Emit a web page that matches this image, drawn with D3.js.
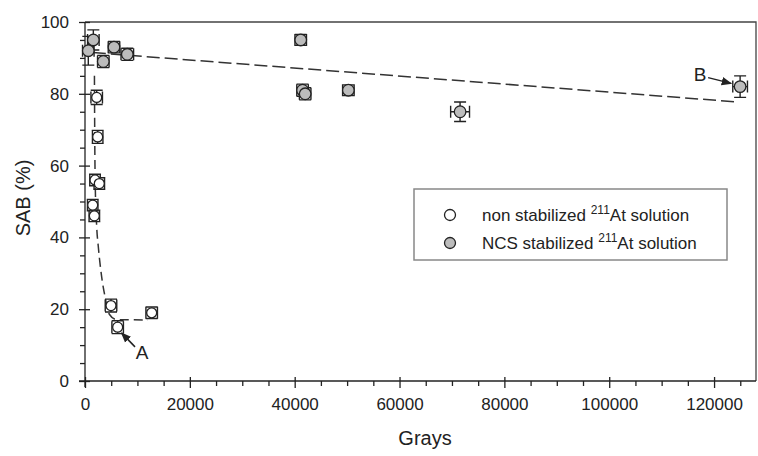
<!DOCTYPE html>
<html>
<head>
<meta charset="UTF-8">
<script src="https://d3js.org/d3.v7.min.js"></script>
<style>
  body { margin: 0; background: #fff; }
  text { font-family: "Liberation Sans", Arial, sans-serif; fill: #222; }
</style>
</head>
<body>
<div id="chart"></div>
<script>
// non stabilized 211At solution
var nsX    = [1470, 1780, 1910, 2730, 2230, 2420, 4960, 6230, 12720];
var nsY    = [49, 46, 56, 55, 79, 68, 21, 15, 19];
var nsXErr = [1000, 1000, 1000, 1000, 1100, 1000, 1100, 1100, 1100];
var nsYErr = [1.6, 1.6, 1.6, 1.6, 2.0, 1.8, 1.8, 1.8, 1.6];

// NCS stabilized 211At solution
var ncsX    = [630, 1590, 3490, 5530, 8070, 41150, 41500, 42000, 50240, 71550, 124970];
var ncsY    = [92, 95, 89, 93, 91, 95, 81, 80, 81, 75, 82];
var ncsXErr = [1100, 1100, 1100, 1100, 1200, 1100, 1100, 1100, 1100, 1800, 1400];
var ncsYErr = [4.0, 2.8, 1.7, 1.6, 1.7, 1.5, 1.7, 1.7, 1.5, 2.7, 3.0];

// dashed fits
var nsFitX  = [1800, 1850, 1950, 2230, 2540, 3180, 3820, 4640, 6000, 12000];
var nsFitY  = [85, 70, 55, 43, 37.4, 29, 23.5, 18.6, 17.1, 17];
var ncsFitX = [1500, 124650];
var ncsFitY = [91.5, 77.7];

var xTicks = [0, 20000, 40000, 60000, 80000, 100000, 120000];
var yTicks = [0, 20, 40, 60, 80, 100];

var W = 758, H = 456;
var svg = d3.select("#chart").append("svg")
    .attr("width", W).attr("height", H);

var x = d3.scaleLinear().domain([0, 128000]).range([85, 756]);
var y = d3.scaleLinear().domain([0, 100]).range([381, 22]);

// frame (top/right)
svg.append("path")
    .attr("d", "M" + x(0) + "," + y(100) + "H" + x(128000) + "V" + y(0))
    .attr("fill", "none").attr("stroke", "#444").attr("stroke-width", 1.3);

// minor ticks
var xMinor = d3.range(0, 128001, 5000).filter(function(v) { return v % 20000 !== 0; });
var yMinor = d3.range(0, 101, 5).filter(function(v) { return v % 20 !== 0; });

svg.append("g")
    .attr("transform", "translate(0," + y(0) + ")")
    .call(d3.axisBottom(x).tickValues(xMinor).tickSize(5).tickFormat(""))
    .call(function(g) { g.select(".domain").remove(); g.selectAll("line").attr("stroke", "#222").attr("stroke-width", 1.3); });

svg.append("g")
    .attr("transform", "translate(" + x(0) + ",0)")
    .call(d3.axisLeft(y).tickValues(yMinor).tickSize(5).tickFormat(""))
    .call(function(g) { g.select(".domain").remove(); g.selectAll("line").attr("stroke", "#222").attr("stroke-width", 1.3); });

// major axes
var xAxis = svg.append("g")
    .attr("transform", "translate(0," + y(0) + ")")
    .call(d3.axisBottom(x).tickValues(xTicks).tickSize(7).tickSizeOuter(0).tickPadding(10).tickFormat(d3.format("d")));
xAxis.select(".domain").attr("d", "M" + (x(0) - 6) + ",0H" + x(128000));
xAxis.selectAll("line").attr("y1", -4);

var yAxis = svg.append("g")
    .attr("transform", "translate(" + x(0) + ",0)")
    .call(d3.axisLeft(y).tickValues(yTicks).tickSize(6).tickSizeOuter(0).tickPadding(10));
yAxis.select(".domain").attr("d", "M0," + y(100) + "V" + (y(0) + 6));
yAxis.selectAll("line").attr("x1", 5);

svg.selectAll(".domain, .tick line").attr("stroke", "#222").attr("stroke-width", 1.3);
svg.selectAll(".tick text").style("font-size", "17px").style("fill", "#222")
    .style("font-family", "'Liberation Sans', Arial, sans-serif");

// axis titles
svg.append("text")
    .attr("x", 425).attr("y", 445)
    .attr("text-anchor", "middle")
    .style("font-size", "20px")
    .text("Grays");

svg.append("text")
    .attr("transform", "translate(30,198) rotate(-90)")
    .attr("text-anchor", "middle")
    .style("font-size", "20px")
    .text("SAB (%)");

// fits
var line = d3.line().x(function(d) { return x(d[0]); }).y(function(d) { return y(d[1]); });

svg.append("path")
    .datum(ncsFitX.map(function(v, i) { return [v, ncsFitY[i]]; }))
    .attr("d", line)
    .attr("fill", "none").attr("stroke", "#333").attr("stroke-width", 1.5)
    .attr("stroke-dasharray", "13,5");

svg.append("path")
    .datum(nsFitX.map(function(v, i) { return [v, nsFitY[i]]; }))
    .attr("d", d3.line().curve(d3.curveMonotoneX).x(function(d) { return x(d[0]); }).y(function(d) { return y(d[1]); }))
    .attr("fill", "none").attr("stroke", "#333").attr("stroke-width", 1.5)
    .attr("stroke-dasharray", "9,5");

// error bars + points
function drawSeries(xs, ys, xe, ye, fill, r) {
    var data = xs.map(function(v, i) { return {x: v, y: ys[i], xe: xe[i], ye: ye[i]}; });
    var cap = 6;
    var g = svg.append("g").attr("stroke", "#222").attr("stroke-width", 1.4).attr("fill", "none");
    data.forEach(function(d) {
        var cx = x(d.x), cy = y(d.y);
        var x0 = x(d.x - d.xe), x1 = x(d.x + d.xe);
        var y0 = y(d.y - d.ye), y1 = y(d.y + d.ye);
        g.append("path").attr("d",
            "M" + cx + "," + y0 + "V" + y1 +
            "M" + (cx - cap) + "," + y0 + "H" + (cx + cap) +
            "M" + (cx - cap) + "," + y1 + "H" + (cx + cap) +
            "M" + x0 + "," + cy + "H" + x1 +
            "M" + x0 + "," + (cy - cap) + "V" + (cy + cap) +
            "M" + x1 + "," + (cy - cap) + "V" + (cy + cap));
    });
    svg.append("g").selectAll("circle")
        .data(data).enter().append("circle")
        .attr("cx", function(d) { return x(d.x); })
        .attr("cy", function(d) { return y(d.y); })
        .attr("r", r)
        .attr("fill", fill).attr("stroke", "#222").attr("stroke-width", 1.3);
}

drawSeries(ncsX, ncsY, ncsXErr, ncsYErr, "#bcbcbc", 5.8);
drawSeries(nsX, nsY, nsXErr, nsYErr, "#fff", 5);

// annotations
var defs = svg.append("defs");
defs.append("marker").attr("id", "arr")
    .attr("viewBox", "0 0 10 10").attr("refX", 9).attr("refY", 5)
    .attr("markerWidth", 7).attr("markerHeight", 7).attr("orient", "auto")
  .append("path").attr("d", "M0,1L10,5L0,9Z").attr("fill", "#222");

var notes = [
    {label: "A", tx: 10876, ty: 6.2, fx: 9540, fy: 9.5, to: [6964, 13.4]},
    {label: "B", tx: 117340, ty: 83.5, fx: 118870, fy: 84.5, to: [123260, 82.9]}
];
notes.forEach(function(n) {
    svg.append("line")
        .attr("x1", x(n.fx)).attr("y1", y(n.fy))
        .attr("x2", x(n.to[0])).attr("y2", y(n.to[1]))
        .attr("stroke", "#222").attr("stroke-width", 1.5)
        .attr("marker-end", "url(#arr)");
    svg.append("text")
        .attr("x", x(n.tx)).attr("y", y(n.ty))
        .attr("text-anchor", "middle")
        .style("font-size", "19px")
        .text(n.label);
});

// legend
var lg = svg.append("g").attr("transform", "translate(414,189)");
lg.append("rect").attr("width", 313).attr("height", 71)
    .attr("fill", "#fff").attr("stroke", "#888").attr("stroke-width", 1.5);
var legendItems = [
    {fill: "#fff", pre: "non stabilized ", post: "At solution"},
    {fill: "#bcbcbc", pre: "NCS stabilized ", post: "At solution"}
];
legendItems.forEach(function(it, i) {
    var ry = 26 + i * 28;
    lg.append("circle").attr("cx", 36).attr("cy", ry).attr("r", 5.5)
        .attr("fill", it.fill).attr("stroke", "#222").attr("stroke-width", 1.3);
    var t = lg.append("text").attr("x", 68).attr("y", ry + 6).style("font-size", "17px");
    t.append("tspan").text(it.pre);
    t.append("tspan").attr("dy", -7).style("font-size", "12px").text("211");
    t.append("tspan").attr("dy", 7).text(it.post);
});
</script>
</body>
</html>
